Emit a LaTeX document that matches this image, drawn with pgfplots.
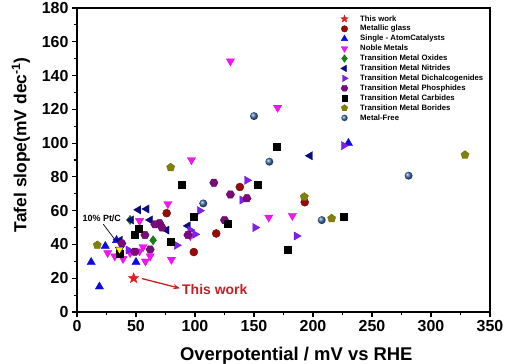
\documentclass[border=0pt]{standalone}
\usepackage{pgfplots}
\pgfplotsset{compat=1.18}
\usepackage{fontspec}
\setmainfont{Liberation Sans}
\usetikzlibrary{arrows.meta}

\definecolor{cTW}{RGB}{230,30,30}
\definecolor{cMG}{RGB}{150,10,10}
\definecolor{cSA}{RGB}{10,10,240}
\definecolor{cNM}{RGB}{245,20,245}
\definecolor{cOX}{RGB}{20,130,20}
\definecolor{cNI}{RGB}{10,10,130}
\definecolor{cDI}{RGB}{130,30,240}
\definecolor{cPH}{RGB}{125,10,125}
\definecolor{cCA}{RGB}{0,0,0}
\definecolor{cBO}{RGB}{128,128,10}
\definecolor{cMF}{RGB}{60,110,170}
\definecolor{cText}{RGB}{200,30,35}

\pgfdeclareplotmark{fstar}{%
  \pgfpathmoveto{\pgfpointpolar{90}{\pgfplotmarksize}}%
  \pgfpathlineto{\pgfpointpolar{126}{0.42\pgfplotmarksize}}%
  \pgfpathlineto{\pgfpointpolar{162}{\pgfplotmarksize}}%
  \pgfpathlineto{\pgfpointpolar{198}{0.42\pgfplotmarksize}}%
  \pgfpathlineto{\pgfpointpolar{234}{\pgfplotmarksize}}%
  \pgfpathlineto{\pgfpointpolar{270}{0.42\pgfplotmarksize}}%
  \pgfpathlineto{\pgfpointpolar{306}{\pgfplotmarksize}}%
  \pgfpathlineto{\pgfpointpolar{342}{0.42\pgfplotmarksize}}%
  \pgfpathlineto{\pgfpointpolar{18}{\pgfplotmarksize}}%
  \pgfpathlineto{\pgfpointpolar{54}{0.42\pgfplotmarksize}}%
  \pgfpathclose\pgfusepathqfillstroke}
\pgfdeclareplotmark{hexagon*}{%
  \pgfpathmoveto{\pgfpointpolar{0}{\pgfplotmarksize}}%
  \pgfpathlineto{\pgfpointpolar{60}{\pgfplotmarksize}}%
  \pgfpathlineto{\pgfpointpolar{120}{\pgfplotmarksize}}%
  \pgfpathlineto{\pgfpointpolar{180}{\pgfplotmarksize}}%
  \pgfpathlineto{\pgfpointpolar{240}{\pgfplotmarksize}}%
  \pgfpathlineto{\pgfpointpolar{300}{\pgfplotmarksize}}%
  \pgfpathclose\pgfusepathqfillstroke}

\pgfplotsset{
  sTW/.style={only marks, mark=fstar, draw=cTW!85!black, fill=cTW, line width=0.3bp},
  sMG/.style={only marks, mark=*, draw=cMG!70!black, fill=cMG, line width=0.4bp},
  sSA/.style={only marks, mark=triangle*, draw=cSA!80!black, fill=cSA, line width=0.3bp},
  sNM/.style={only marks, mark=triangle*, draw=cNM!85!black, fill=cNM, line width=0.3bp, mark options={rotate=180}},
  sOX/.style={only marks, mark=diamond*, draw=cOX!80!black, fill=cOX, line width=0.3bp},
  sNI/.style={only marks, mark=triangle*, draw=cNI!80!black, fill=cNI, line width=0.3bp, mark options={rotate=90}},
  sDI/.style={only marks, mark=triangle*, draw=cDI!80!black, fill=cDI, line width=0.3bp, mark options={rotate=-90}},
  sPH/.style={only marks, mark=hexagon*, draw=cPH!70!black, fill=cPH, line width=0.4bp},
  sCA/.style={only marks, mark=square*, draw=black, fill=black, line width=0.3bp},
  sBO/.style={only marks, mark=pentagon*, draw=cBO!80!black, fill=cBO, line width=0.3bp},
  sMF/.style={only marks, mark=ball, ball color=cMF, draw=none},
}

\begin{document}
\begin{tikzpicture}
\useasboundingbox (-77bp,-52bp) rectangle (428bp,312bp);
\begin{axis}[
  at={(0,0)}, anchor=south west,
  scale only axis, width=413bp, height=304bp,
  xmin=0, xmax=350, ymin=0, ymax=180,
  xtick={0,50,...,350}, ytick={0,20,...,180},
  minor x tick num=1, minor y tick num=1,
  tick pos=left, tick align=outside,
  major tick length=5bp, minor tick length=3bp,
  axis line style={line width=1.5bp},
  every tick/.style={line width=1.2bp, black},
  /pgf/number format/assume math mode=true,
  tick label style={font=\fontsize{16}{16}\selectfont\bfseries},
  xlabel={Overpotential / mV vs RHE},
  ylabel={Tafel slope(mV dec\textsuperscript{-1})},
  xlabel style={font=\fontsize{18.5}{18.5}\selectfont\bfseries, at={(axis description cs:0.531,-0.145)}, anchor=center},
  ylabel style={font=\fontsize{17.5}{17.5}\selectfont\bfseries, at={(axis description cs:-0.136,0.55)}, anchor=center},
  legend style={draw=none, fill=none, inner sep=0pt, at={(axis description cs:0.638,0.98)}, anchor=north west,
    font=\fontsize{7.8}{9}\selectfont\bfseries, row sep=0.6bp,
    nodes={inner sep=0.8bp, text height=6bp, text depth=1.7bp}},
  legend cell align=left,
  legend image code/.code={\draw[#1] plot coordinates {(0.12cm,0cm)}; \path (0cm,0cm) (0.64cm,0cm);},
]
\addlegendimage{sTW, mark size=3.8bp}\addlegendentry{This work}
\addlegendimage{sMG, mark size=3.2bp}\addlegendentry{Metallic glass}
\addlegendimage{sSA, mark size=3.8bp}\addlegendentry{Single - AtomCatalysts}
\addlegendimage{sNM, mark size=3.8bp}\addlegendentry{Noble Metals}
\addlegendimage{sOX, mark size=3.8bp}\addlegendentry{Transition Metal Oxides}
\addlegendimage{sNI, mark size=3.8bp}\addlegendentry{Transition Metal Nitrides}
\addlegendimage{sDI, mark size=3.8bp}\addlegendentry{Transition Metal Dichalcogenides}
\addlegendimage{sPH, mark size=3.4bp}\addlegendentry{Transition Metal Phosphides}
\addlegendimage{sCA, mark size=2.8bp}\addlegendentry{Transition Metal Carbides}
\addlegendimage{sBO, mark size=3.4bp}\addlegendentry{Transition Metal Borides}
\addlegendimage{sMF, mark size=3.2bp}\addlegendentry{Metal-Free}

% Noble metals
\addplot[sNM, mark size=4.8bp, forget plot] coordinates {
 (130,148.5) (170,121) (97,90) (162.5,56) (182.5,57) (77,64) (96,45) (80,31)
 (53,54) (56,38.5) (26,35) (32,33) (39,31.5) (45,35) (53,36) (58,30) (62,33)};
% Metallic glass
\addplot[sMG, mark size=4bp, forget plot] coordinates {
 (138,74) (193,65) (118,46.5) (76,58.5) (99,35.5)};
% Single atom
\addplot[sSA, mark size=4.8bp, forget plot] coordinates {
 (19,15) (12,29.5) (50,29.5) (33.5,42.5) (24,39) (230,100)};
% Oxides
\addplot[sOX, mark size=4.6bp, forget plot] coordinates {
 (45,54.5) (64.5,42.5)};
% Nitrides
\addplot[sNI, mark size=4.8bp, forget plot] coordinates {
 (52,60.5) (59,61) (46,54.5) (62,54.5) (76,48.5) (94,51) (36.5,42.5) (197.5,92.5)};
% Dichalcogenides
\addplot[sDI, mark size=4.8bp, forget plot] coordinates {
 (226,98.5) (144,78) (140,66.3) (151,50) (186,45) (104,60) (84.5,39.5) (43.5,36.7) (96,48.5) (100,46)};
% Phosphides
\addplot[sPH, mark size=4.2bp, forget plot] coordinates {
 (116,76.5) (130,69.6) (144,67.3) (125,54.4) (70,52.5) (57.6,45.6) (62,37) (94,45.6) (49,35.7) (38,40.6) (66,52) (72,50)};
% Carbides
\addplot[sCA, mark size=3.5bp, forget plot] coordinates {
 (169,98) (153,75.3) (128,52.5) (225.7,56.4) (178.5,36.7) (89,75.5) (98.6,56.4) (52,49.5) (49,45.6) (79,41.6) (36.4,34.7)};
% Borides
\addplot[sBO, mark size=4.3bp, forget plot] coordinates {
 (79.4,85.6) (328.8,93) (192.6,68.2) (215.8,55.4) (17.2,39.6)};
% Metal-free
\addplot[sMF, mark size=4bp, forget plot] coordinates {
 (150,116) (163,89) (281,80.7) (207.4,54.4) (107,64.3)};
% 10% Pt/C
\addplot[only marks, mark=triangle*, mark size=4.8bp, draw=black, fill=yellow, line width=0.4bp, mark options={rotate=180}, forget plot] coordinates {(36,37)};
% This work
\addplot[sTW, mark size=5.5bp, forget plot] coordinates {(48,20)};

\draw[-{Stealth[length=7bp,width=5bp]}, cText, line width=1.3bp] (axis cs:55,19.8) -- (axis cs:87.5,14);
\node[anchor=west, text=cText, font=\fontsize{14}{14}\selectfont\bfseries, inner sep=0pt] at (axis cs:89,13.4) {This work};
\node[font=\fontsize{9}{9}\selectfont\bfseries, inner sep=0pt] at (axis cs:21,55.6) {10\% Pt/C};
\draw[-{Stealth[length=4bp,width=3bp]}, line width=0.7bp] (axis cs:22.3,52) -- (axis cs:33.2,41.8);
\end{axis}
\end{tikzpicture}
\end{document}
